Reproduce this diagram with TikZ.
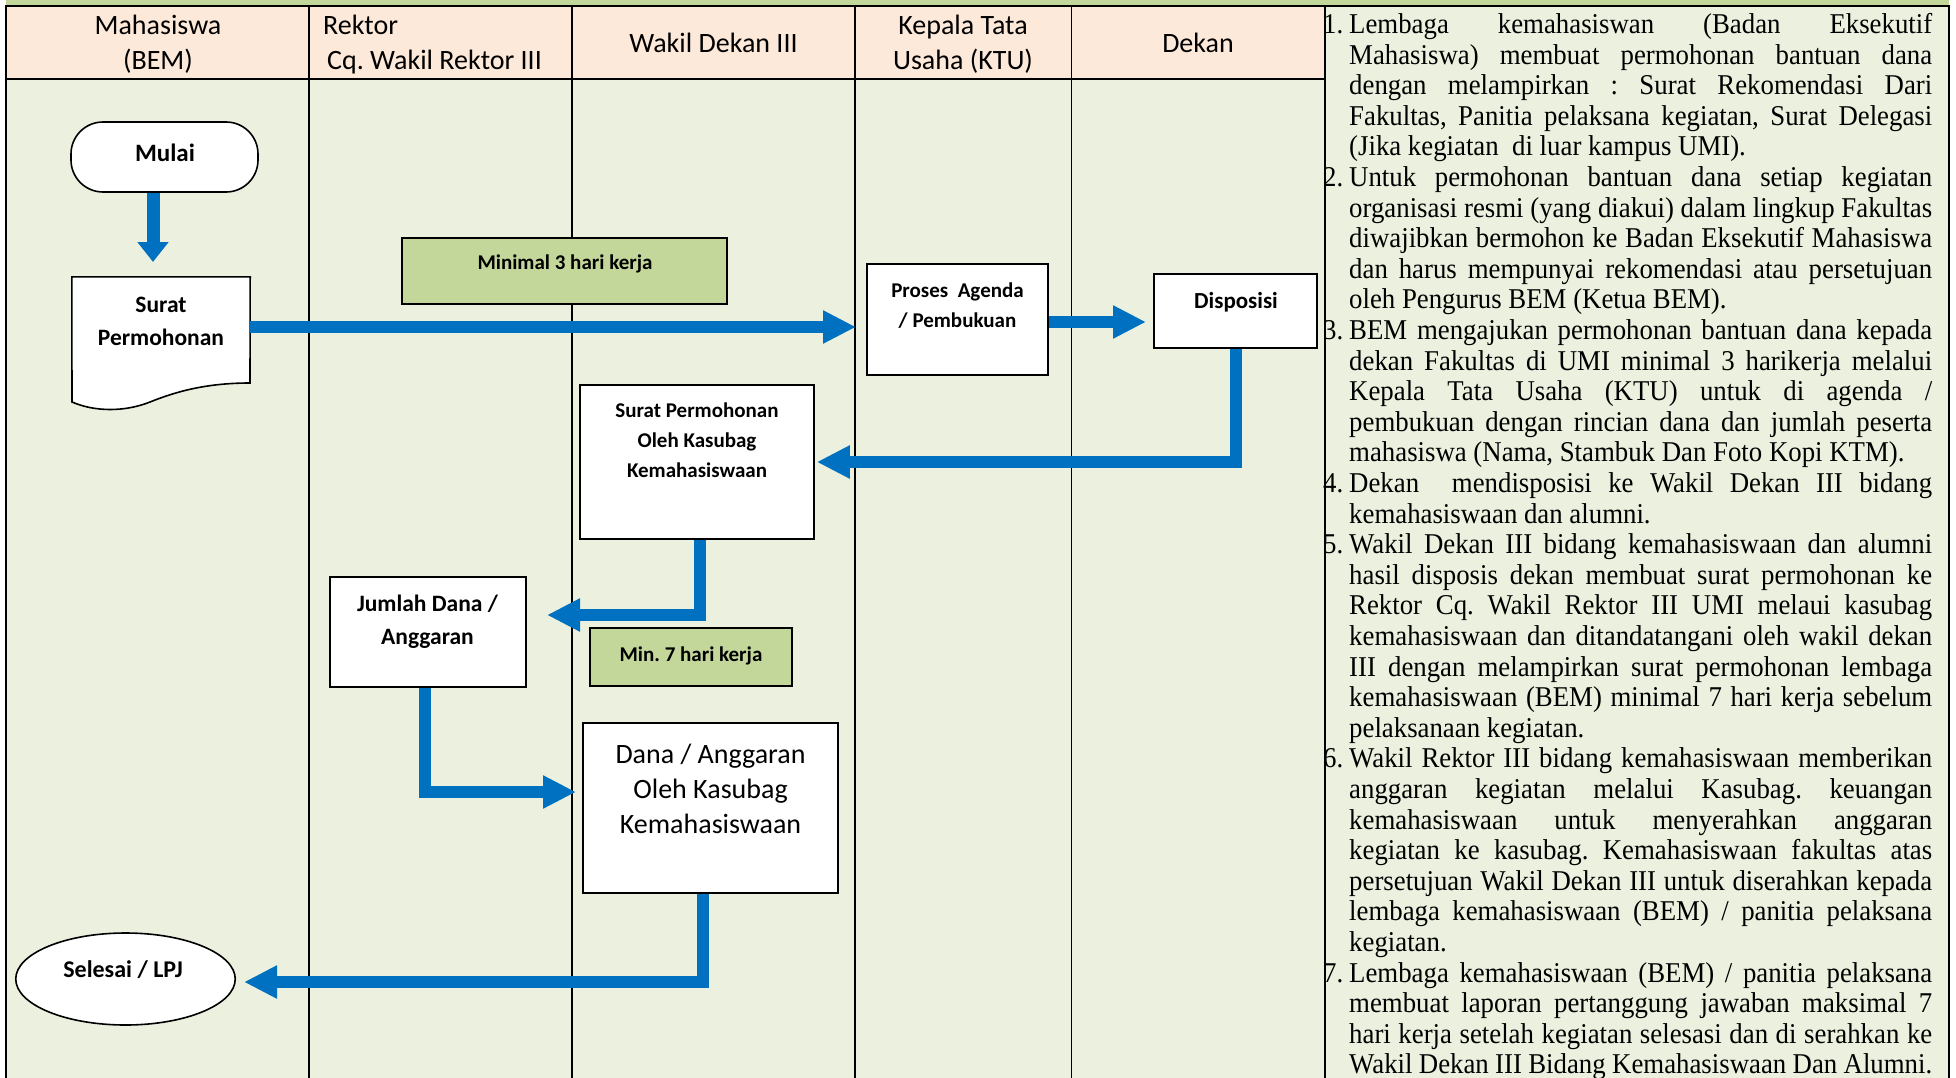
\documentclass[tikz,border=0pt]{standalone}
\usepackage{fontspec}
\usepackage{graphicx}
\setmainfont{Carlito}
\newfontfamily\tnr{Liberation Serif}
\usetikzlibrary{arrows.meta,shapes.geometric,calc}
\definecolor{peach}{HTML}{FDE9D9}
\definecolor{lane}{HTML}{EBF1DE}
\definecolor{olive}{HTML}{C4D79B}
\definecolor{flowblue}{HTML}{0070C0}
\frenchspacing
\newcommand\fsz[2]{\fontsize{#1}{#2}\selectfont}
\newcommand\stepfirst[2]{\noindent\makebox[26pt][l]{#1}\makebox[583pt][s]{#2}\par}
\newcommand\stepmid[1]{\noindent\hspace*{26pt}\makebox[583pt][s]{#1}\par}
\newcommand\steplast[1]{\noindent\hspace*{26pt}#1\par}
\begin{document}
\begin{tikzpicture}[x=1pt,y=-1pt,
  box/.style={draw=black, line width=1.6pt, fill=white, inner sep=0},
  greenbox/.style={box, fill=olive},
  hdr/.style={font=\fsz{28}{34}, anchor=base, inner sep=0},
  bt/.style={anchor=base, inner sep=0, align=center},
  grid/.style={line width=1.6pt, draw=black},
  border/.style={line width=2.6pt, draw=black},
  flow/.style={draw=flowblue, line width=12pt, line join=miter, -{Triangle[length=33pt,width=31pt]}}
]
\useasboundingbox (0,0) rectangle (1956,1078);
% backgrounds
\fill[white] (0,0) rectangle (1956,1078);
\fill[olive] (6,0) rectangle (1949,6);
\fill[peach] (6,6) rectangle (1325,79);
\fill[lane] (6,79) rectangle (1325,1078);
\fill[lane] (1325,6) rectangle (1949,1078);
% lane lines
\foreach \xx in {309,572,855,1071.5} \draw[grid] (\xx,6) -- (\xx,1078);
\draw[border] (6,79) -- (1325,79);
\draw[border] (6,1078) -- (6,6) -- (1949,6) -- (1949,1078);
\draw[border] (1325,6) -- (1325,1078);
% headers
\node[hdr] (h1a) at (158,35) {Mahasiswa};
\node[hdr] (h1b) at (158,70) {(BEM)};
\node[hdr, anchor=base west] (h2a) at (323,35) {Rektor};
\node[hdr, anchor=base west] (h2b) at (327,70) {Cq. Wakil Rektor III};
\node[hdr] (h3) at (713.5,53) {Wakil Dekan III};
\node[hdr] (h4a) at (963,35) {Kepala Tata};
\node[hdr] (h4b) at (963,70) {Usaha (KTU)};
\node[hdr] (h5) at (1198,53) {Dekan};
% nodes (text nodes anchored at the baseline of their last line)
\node[box, rounded corners=32pt, minimum width=187, minimum height=70] (mulai) at (164.5,157) {};
\node[bt, font=\bfseries\fsz{25}{30}] (mulai-t) at (165,162) {Mulai};
\node[inner sep=0, minimum width=178, minimum height=106] (surat) at (161,330) {};
\draw[line width=1.6pt, fill=white] (surat.north west) -- (surat.north east) -- (250,383)
  .. controls (205,383) and (175,392) .. (150,402) .. controls (125,412) and (95,412) .. (72,402) -- cycle;
\node[bt, font=\bfseries\fsz{23.5}{33}] (surat-t) at (161,345) {Surat\\Permohonan};
\node[greenbox, minimum width=325, minimum height=66] (min3) at (564.5,271) {};
\node[bt, font=\bfseries\fsz{21}{25}] (min3-t) at (565,269) {Minimal 3 hari kerja};
\node[box, minimum width=181, minimum height=111] (proses) at (957.5,319.5) {};
\node[bt, font=\bfseries\fsz{21}{30}] (proses-t) at (957.5,327) {Proses~ Agenda\\/ Pembukuan};
\node[box, minimum width=163, minimum height=74] (disp) at (1235.5,311) {};
\node[bt, font=\bfseries\fsz{23}{28}] (disp-t) at (1236,308) {Disposisi};
\node[box, minimum width=234, minimum height=154] (spok) at (697,462) {};
\node[bt, font=\bfseries\fsz{21}{30}] (spok-t) at (697,477) {Surat Permohonan\\Oleh Kasubag\\Kemahasiswaan};
\node[box, minimum width=196, minimum height=110] (jumlah) at (428,632) {};
\node[bt, font=\bfseries\fsz{23.5}{33}] (jumlah-t) at (427.5,644) {Jumlah Dana /\\Anggaran};
\node[greenbox, minimum width=202, minimum height=58] (min7) at (691,657) {};
\node[bt, font=\bfseries\fsz{21}{25}] (min7-t) at (691,661) {Min. 7 hari kerja};
\node[box, minimum width=255, minimum height=170] (dana) at (710.5,808) {};
\node[bt, font=\fsz{28}{35}] (dana-t) at (710.5,833) {Dana / Anggaran\\Oleh Kasubag\\Kemahasiswaan};
\node[box, ellipse, minimum width=219.5, minimum height=92] (selesai) at (125.5,979) {};
\node[bt, font=\bfseries\fsz{24}{28}] (selesai-t) at (123,977) {Selesai / LPJ};
% connector ends
\coordinate (c1) at (153,262);
\coordinate (c2) at (856,327);
\coordinate (c3) at (1146,322);
\coordinate (c5) at (547,615);
\coordinate (c6) at (576,792);
\coordinate (c7) at (244,982);
% connectors
\draw[flow, line width=13pt, -{Triangle[length=20pt,width=30pt]}] (mulai.south -| c1) -- (c1);
\draw[flow] (surat.east |- c2) -- (c2);
\draw[flow] (proses.east |- c3) -- (c3);
\draw[flow] (disp.south) -- (disp.south |- spok.east) -- ([xshift=2pt]spok.east);
\draw[flow] ([xshift=3pt]spok.south) -- ([xshift=3pt]spok.south |- c5) -- (c5);
\draw[flow] ([xshift=-3pt]jumlah.south) -- ([xshift=-3pt]jumlah.south |- c6) -- (c6);
\draw[flow] ([xshift=-7.5pt]dana.south) -- ([xshift=-7.5pt]dana.south |- c7) -- (c7);
% steps text
\node[anchor=base west, inner sep=0] (steps) at (1323,33.5) {\scalebox{1}[1.07]{\parbox[t]{609pt}{\tnr\fsz{26.8}{28.6}%
\stepfirst{1.}{Lembaga kemahasiswan (Badan Eksekutif}
\stepmid{Mahasiswa) membuat permohonan bantuan dana}
\stepmid{dengan melampirkan : Surat Rekomendasi Dari}
\stepmid{Fakultas, Panitia pelaksana kegiatan, Surat Delegasi}
\steplast{(Jika kegiatan~ di luar kampus UMI).}
\stepfirst{2.}{Untuk permohonan bantuan dana setiap kegiatan}
\stepmid{organisasi resmi (yang diakui) dalam lingkup Fakultas}
\stepmid{diwajibkan bermohon ke Badan Eksekutif Mahasiswa}
\stepmid{dan harus mempunyai rekomendasi atau persetujuan}
\steplast{oleh Pengurus BEM (Ketua BEM).}
\stepfirst{3.}{BEM mengajukan permohonan bantuan dana kepada}
\stepmid{dekan Fakultas di UMI minimal 3 harikerja melalui}
\stepmid{Kepala Tata Usaha (KTU) untuk di agenda /}
\stepmid{pembukuan dengan rincian dana dan jumlah peserta}
\steplast{mahasiswa (Nama, Stambuk Dan Foto Kopi KTM).}
\stepfirst{4.}{Dekan~ mendisposisi ke Wakil Dekan III bidang}
\steplast{kemahasiswaan dan alumni.}
\stepfirst{5.}{Wakil Dekan III bidang kemahasiswaan dan alumni}
\stepmid{hasil disposis dekan membuat surat permohonan ke}
\stepmid{Rektor Cq. Wakil Rektor III UMI melaui kasubag}
\stepmid{kemahasiswaan dan ditandatangani oleh wakil dekan}
\stepmid{III dengan melampirkan surat permohonan lembaga}
\stepmid{kemahasiswaan (BEM) minimal 7 hari kerja sebelum}
\steplast{pelaksanaan kegiatan.}
\stepfirst{6.}{Wakil Rektor III bidang kemahasiswaan memberikan}
\stepmid{anggaran kegiatan melalui Kasubag. keuangan}
\stepmid{kemahasiswaan untuk menyerahkan anggaran}
\stepmid{kegiatan ke kasubag. Kemahasiswaan fakultas atas}
\stepmid{persetujuan Wakil Dekan III untuk diserahkan kepada}
\stepmid{lembaga kemahasiswaan (BEM) / panitia pelaksana}
\steplast{kegiatan.}
\stepfirst{7.}{Lembaga kemahasiswaan (BEM) / panitia pelaksana}
\stepmid{membuat laporan pertanggung jawaban maksimal 7}
\stepmid{hari kerja setelah kegiatan selesasi dan di serahkan ke}
\stepmid{Wakil Dekan III Bidang Kemahasiswaan Dan Alumni.}
}}};
\end{tikzpicture}
\end{document}
